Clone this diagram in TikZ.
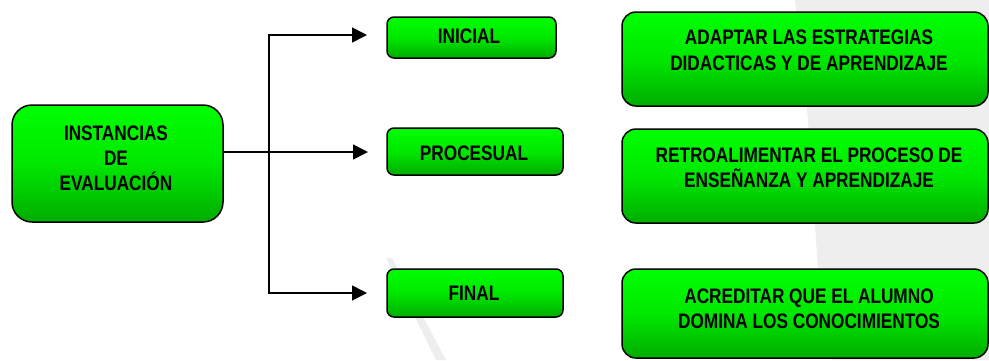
\documentclass[tikz,border=0pt]{standalone}
\usepackage{fontspec}
\setmainfont[FakeStretch=0.82]{Liberation Sans}
\usetikzlibrary{arrows.meta}
\definecolor{gtop}{RGB}{0,255,0}
\definecolor{gmid}{RGB}{0,232,0}
\definecolor{gbot}{RGB}{0,172,0}
\definecolor{wm}{RGB}{238,238,238}
\tikzset{
  gbox/.style={draw=black, line width=1.5pt, top color=gtop, bottom color=gbot, middle color=gmid, inner sep=0pt},
  bigbox/.style={gbox, rounded corners=20pt},
  midbox/.style={gbox, rounded corners=7pt},
  rbox/.style={gbox, rounded corners=14pt},
  txt/.style={anchor=base, align=center, inner sep=0pt, text=black, font={\fontsize{21}{25}\selectfont\bfseries}},
  conn/.style={draw=black, line width=1.6pt, -{Triangle[length=15pt,width=15pt]}},
}
\begin{document}
\begin{tikzpicture}[x=1pt,y=-1pt]
\useasboundingbox (0,0) rectangle (989,360);
% faint watermark
\fill[wm] (795,0) -- (989,0) -- (989,360) -- (832,360) -- (818,270) -- (808,120) -- cycle;
\fill[wm] (386,258) -- (392,258) -- (446,360) -- (436,360) -- cycle;
% boxes
\node[bigbox, minimum width=211pt, minimum height=117pt] (L) at (117.5,163.5) {};
\node[midbox, minimum width=169pt, minimum height=41pt] (I) at (471.5,37.5) {};
\node[midbox, minimum width=176pt, minimum height=47pt] (P) at (475,151.5) {};
\node[midbox, minimum width=176pt, minimum height=48pt] (F) at (475,293) {};
\node[rbox, minimum width=366pt, minimum height=94pt] (A) at (805,59) {};
\node[rbox, minimum width=366pt, minimum height=94pt] (R) at (805,176) {};
\node[rbox, minimum width=366pt, minimum height=89pt] (C) at (805,313.5) {};
% texts (base anchor = baseline of last line)
\node[txt] (Lt) at (116,190) {INSTANCIAS\\DE\\EVALUACIÓN};
\node[txt] (It) at (469,43.3) {INICIAL};
\node[txt] (Pt) at (474,160) {PROCESUAL};
\node[txt] (Ft) at (474,300.7) {FINAL};
\node[txt, font={\fontsize{21}{25.7}\selectfont\bfseries}] (At) at (809,70.2) {ADAPTAR LAS ESTRATEGIAS\\DIDACTICAS Y DE APRENDIZAJE};
\node[txt] (Rt) at (809,187.7) {RETROALIMENTAR EL PROCESO DE\\ENSEÑANZA Y APRENDIZAJE};
\node[txt] (Ct) at (809,328.3) {ACREDITAR QUE EL ALUMNO\\DOMINA LOS CONOCIMIENTOS};
% connectors
\coordinate (J) at (269,152);
\coordinate (TI) at (367,35);
\coordinate (TP) at (368,152);
\coordinate (TF) at (367,293);
\draw[conn] (L.east |- J) -- (TP);
\draw[conn] (J) |- (TI);
\draw[conn] (J) |- (TF);
\end{tikzpicture}
\end{document}
